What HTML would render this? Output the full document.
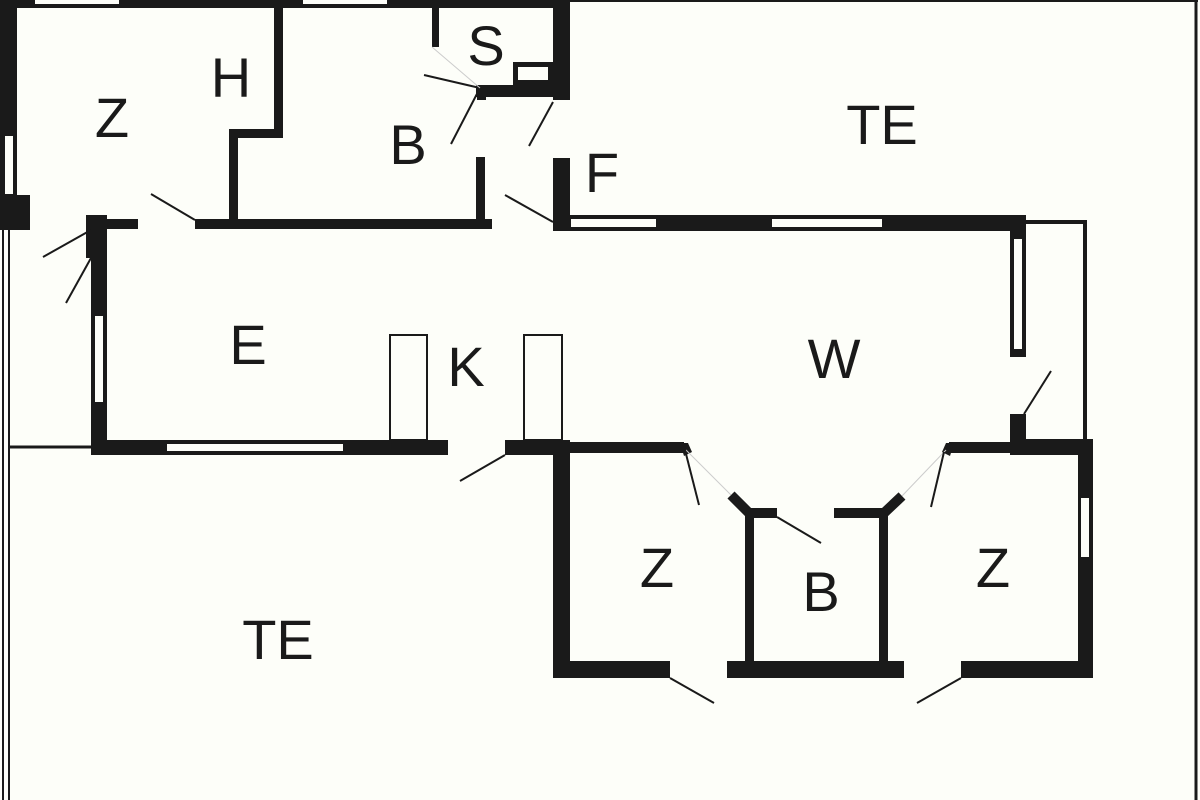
<!DOCTYPE html>
<html><head><meta charset="utf-8"><style>
html,body{margin:0;padding:0;background:#fdfef9;}
svg{display:block}
text{font-family:"Liberation Sans",sans-serif;font-size:56px;fill:#1a1a1a;text-anchor:middle}
</style></head><body>
<svg width="1200" height="800" viewBox="0 0 1200 800" xmlns="http://www.w3.org/2000/svg">
<rect width="1200" height="800" fill="#fdfef9"/>
<!-- frame -->
<line x1="570" y1="1" x2="1198" y2="1" stroke="#1a1a1a" stroke-width="2"/>
<line x1="1196" y1="0" x2="1196" y2="800" stroke="#1a1a1a" stroke-width="3"/>
<line x1="3" y1="230" x2="3" y2="800" stroke="#1a1a1a" stroke-width="2"/>
<line x1="9" y1="230" x2="9" y2="800" stroke="#1a1a1a" stroke-width="2"/>
<line x1="9" y1="447" x2="91" y2="447" stroke="#1a1a1a" stroke-width="3"/>
<g fill="#1a1a1a">
<!-- top wall -->
<rect x="0" y="0" width="570" height="8"/>
<!-- left wall -->
<rect x="0" y="0" width="17" height="230"/>
<rect x="0" y="195" width="30" height="35"/>
<!-- Z/H walls -->
<rect x="274" y="8" width="9" height="130"/>
<rect x="229" y="129" width="54" height="9"/>
<rect x="229" y="129" width="9" height="93"/>
<!-- horizontal mid wall -->
<rect x="195" y="219" width="297" height="10"/>
<rect x="86" y="215" width="21" height="43"/>
<rect x="107" y="219" width="31" height="10"/>
<!-- S -->
<rect x="432" y="8" width="7" height="39"/>
<rect x="476" y="85" width="94" height="12"/>
<rect x="513" y="62" width="40" height="23"/>
<rect x="553" y="0" width="17" height="100"/>
<rect x="477" y="85" width="9" height="15"/>
<!-- B right wall -->
<rect x="476" y="157" width="9" height="65"/>
<!-- F wall -->
<rect x="553" y="158" width="17" height="73"/>
<!-- top of W -->
<rect x="553" y="215" width="473" height="16"/>
<rect x="1010" y="215" width="16" height="142"/>
<rect x="1010" y="414" width="16" height="41"/>
<!-- left lower E wall -->
<rect x="91" y="258" width="16" height="197"/>
<rect x="91" y="440" width="357" height="15"/>
<rect x="505" y="440" width="65" height="15"/>
<!-- W bottom -->
<rect x="553" y="442" width="131" height="11"/>
<rect x="949" y="442" width="61" height="11"/>
<rect x="1010" y="439" width="83" height="16"/>
<!-- lower rooms -->
<rect x="553" y="440" width="17" height="238"/>
<rect x="553" y="661" width="117" height="17"/>
<rect x="727" y="661" width="177" height="17"/>
<rect x="961" y="661" width="132" height="17"/>
<rect x="1078" y="440" width="15" height="238"/>
<rect x="745" y="508" width="9" height="155"/>
<rect x="879" y="508" width="9" height="155"/>
<rect x="745" y="508" width="32" height="10"/>
<rect x="834" y="508" width="54" height="10"/>
<polygon points="680,443 688,443 692,452 684,456"/>
<polygon points="942,452 946,443 954,443 950,456"/>
</g>
<!-- diagonal walls -->
<line x1="731" y1="495" x2="750" y2="514" stroke="#1a1a1a" stroke-width="10"/>
<line x1="902" y1="496" x2="884" y2="513" stroke="#1a1a1a" stroke-width="10"/>
<line x1="686" y1="450" x2="731" y2="495" stroke="#ccc" stroke-width="1"/>
<line x1="946" y1="450" x2="902" y2="496" stroke="#ccc" stroke-width="1"/>
<!-- windows -->
<g fill="#fdfef9" stroke="#1a1a1a" stroke-width="2">
<rect x="34" y="-2" width="86" height="7"/>
<rect x="302" y="-2" width="86" height="7"/>
<rect x="4" y="135" width="10" height="60"/>
<rect x="517" y="66" width="32" height="15"/>
<rect x="94" y="315" width="10" height="88"/>
<rect x="166" y="443" width="178" height="9"/>
<rect x="570" y="218" width="87" height="10"/>
<rect x="771" y="218" width="112" height="10"/>
<rect x="1013" y="238" width="10" height="112"/>
<rect x="1080" y="497" width="10" height="61"/>
</g>
<!-- outlines -->
<g fill="none" stroke="#1a1a1a" stroke-width="2">
<rect x="390" y="335" width="37" height="105"/>
<rect x="524" y="335" width="38" height="105"/>
<polyline points="1026,222 1085,222 1085,440" stroke-width="4"/>
</g>
<!-- door swings -->
<g stroke="#1a1a1a" stroke-width="2">
<line x1="151" y1="194" x2="195" y2="220"/>
<line x1="43" y1="257" x2="91" y2="230"/>
<line x1="91" y1="258" x2="66" y2="303"/>
<line x1="424" y1="75" x2="480" y2="88"/>
<line x1="480" y1="88" x2="451" y2="144"/>
<line x1="553" y1="102" x2="529" y2="146"/>
<line x1="505" y1="195" x2="553" y2="222"/>
<line x1="505" y1="455" x2="460" y2="481"/>
<line x1="685" y1="450" x2="699" y2="505"/>
<line x1="944" y1="452" x2="931" y2="507"/>
<line x1="777" y1="517" x2="821" y2="543"/>
<line x1="670" y1="678" x2="714" y2="703"/>
<line x1="961" y1="678" x2="917" y2="703"/>
<line x1="1024" y1="414" x2="1051" y2="371"/>
</g>
<line x1="432" y1="47" x2="480" y2="88" stroke="#ccc" stroke-width="1"/>
<!-- labels -->
<text x="112" y="137">Z</text>
<text x="231" y="97">H</text>
<text x="408" y="164">B</text>
<text x="486" y="65">S</text>
<text x="602" y="192">F</text>
<text x="882" y="144">TE</text>
<text x="248" y="364">E</text>
<text x="466" y="386">K</text>
<text x="834" y="378">W</text>
<text x="657" y="587">Z</text>
<text x="821" y="611">B</text>
<text x="993" y="587">Z</text>
<text x="278" y="659">TE</text>
</svg>
</body></html>
